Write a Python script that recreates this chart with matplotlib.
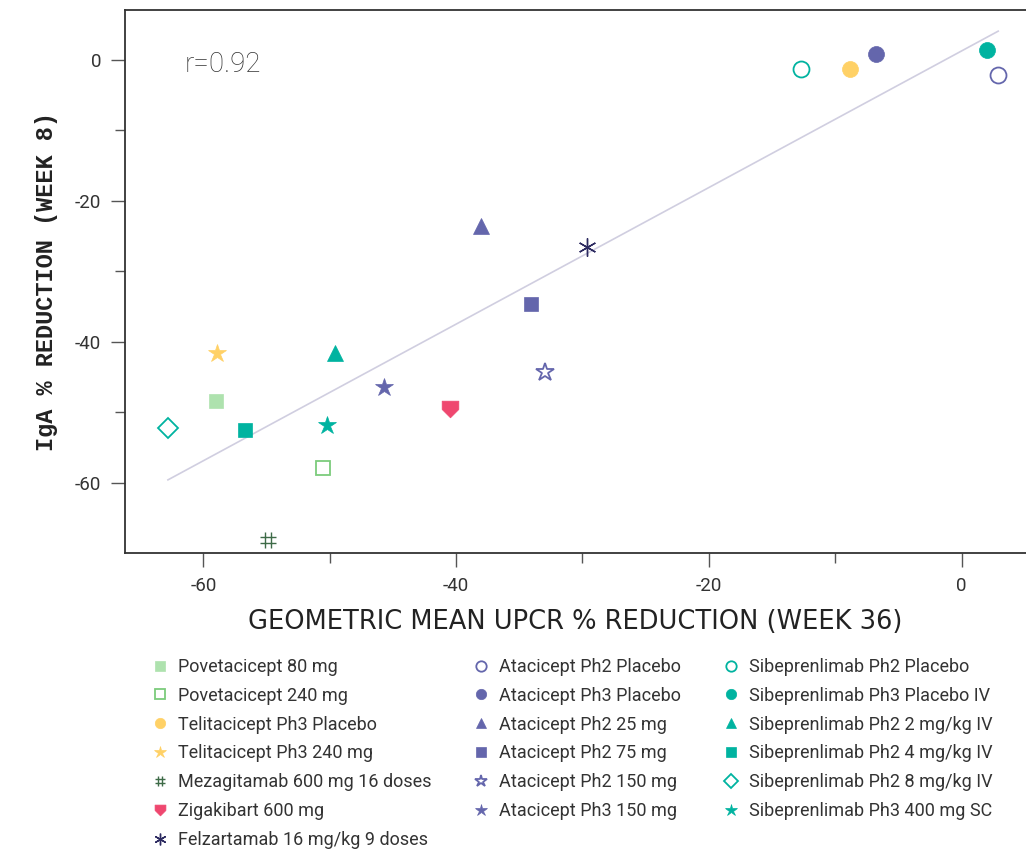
import numpy as np
import matplotlib.pyplot as plt
from matplotlib.path import Path

plt.rcParams["font.family"] = ["Roboto", "DejaVu Sans"]
plt.rcParams["axes.unicode_minus"] = False

labels = [
    "Povetacicept 80 mg", "Povetacicept 240 mg", "Telitacicept Ph3 Placebo",
    "Telitacicept Ph3 240 mg", "Mezagitamab 600 mg 16 doses", "Zigakibart 600 mg",
    "Felzartamab 16 mg/kg 9 doses",
    "Atacicept Ph2 Placebo", "Atacicept Ph3 Placebo", "Atacicept Ph2 25 mg",
    "Atacicept Ph2 75 mg", "Atacicept Ph2 150 mg", "Atacicept Ph3 150 mg",
    "Sibeprenlimab Ph2 Placebo", "Sibeprenlimab Ph3 Placebo IV",
    "Sibeprenlimab Ph2 2 mg/kg IV", "Sibeprenlimab Ph2 4 mg/kg IV",
    "Sibeprenlimab Ph2 8 mg/kg IV", "Sibeprenlimab Ph3 400 mg SC",
]
upcr = [-59.0, -50.5, -8.8, -58.9, -54.9, -40.5, -29.6,
        2.9, -6.8, -38.0, -34.1, -33.0, -45.7,
        -12.7, 2.0, -49.6, -56.7, -62.8, -50.2]
iga = [-48.4, -58.0, -1.3, -41.6, -68.1, -49.6, -26.5,
       -2.1, 0.8, -23.5, -34.7, -44.3, -46.4,
       -1.3, 1.4, -41.6, -52.5, -52.2, -51.8]

purple = "#6466ac"
teal = "#00b3a0"
yellow = "#ffd166"
green_lt = "#aee2ae"
green_open = "#7ccb7c"
green_dk = "#3e6b48"
pink = "#ef476f"
navy = "#2c2a60"

# custom glyphs: hash sign and downward shield
hash_mark = Path(
    [(-0.35, -1), (-0.35, 1), (0.35, -1), (0.35, 1),
     (-1, -0.35), (1, -0.35), (-1, 0.35), (1, 0.35)],
    [Path.MOVETO, Path.LINETO] * 4)
shield = Path([(-1, 1), (1, 1), (1, 0), (0, -1), (-1, 0), (-1, 1)],
              [Path.MOVETO] + [Path.LINETO] * 4 + [Path.CLOSEPOLY])
asterisk = (6, 2, 0)

# (marker, colour, filled, size)
styles = [
    ("s", green_lt, True, 10), ("s", green_open, False, 10),
    ("o", yellow, True, 11.5), ("*", yellow, True, 13.5),
    (hash_mark, green_dk, False, 12), (shield, pink, True, 12),
    (asterisk, navy, False, 13),
    ("o", purple, False, 11.5), ("o", purple, True, 11.5),
    ("^", purple, True, 11), ("s", purple, True, 10),
    ("*", purple, False, 13.5), ("*", purple, True, 13.5),
    ("o", teal, False, 11.5), ("o", teal, True, 11.5),
    ("^", teal, True, 11), ("s", teal, True, 10),
    ("D", teal, False, 10.5), ("*", teal, True, 13.5),
]

fig = plt.figure(figsize=(10.26, 8.5), dpi=100)
ax = fig.add_axes([0.1218, 0.3494, 0.8782, 0.6388])

# fitted trend line over the data range
k, b = np.polyfit(upcr, iga, 1)
xs = np.array([min(upcr), max(upcr)])
ax.plot(xs, k * xs + b, color="#d0cee0", lw=1.2, zorder=1)

for lab, x, y, (m, c, filled, ms) in zip(labels, upcr, iga, styles):
    if filled:
        ax.plot(x, y, ls="none", marker=m, color=c, markersize=ms,
                markeredgecolor=c, markeredgewidth=0.5, label=lab, zorder=3)
    else:
        lw = 1.0 if m is hash_mark or m == asterisk else 1.3
        ax.plot(x, y, ls="none", marker=m, color=c, markersize=ms,
                markerfacecolor="none", markeredgecolor=c,
                markeredgewidth=lw, label=lab, zorder=3)

ax.text(0.066, 0.899, "r=0.92", transform=ax.transAxes, fontsize=20,
        color="#333333", va="center", fontweight="light")

ax.set_xlim(-66.2, 5.1)
ax.set_ylim(-70, 7.1)
ax.set_xticks([-60, -40, -20, 0])
ax.set_xticks([-50, -30, -10], minor=True)
ax.set_yticks([0, -20, -40, -60])
ax.set_yticks([-10, -30, -50], minor=True)
ax.tick_params(which="major", length=10, width=1, color="#555555",
               labelsize=13.5, labelcolor="#333333", pad=7)
ax.tick_params(which="minor", length=7, width=1, color="#555555")
for s in ("left", "bottom", "top"):
    ax.spines[s].set_color("#333333")
    ax.spines[s].set_linewidth(1.3)
ax.spines["right"].set_visible(False)

ax.set_xlabel("GEOMETRIC MEAN UPCR % REDUCTION (WEEK 36)", fontsize=18.5,
              family=["DejaVu Sans"], color="#222222", labelpad=10)
ax.set_ylabel("IgA % REDUCTION (WEEK 8)", fontsize=17, fontweight="bold",
              family=["Liberation Mono", "DejaVu Sans Mono"],
              color="#222222", labelpad=12)

fig.legend(loc="upper left", bbox_to_anchor=(0.147, 0.226), ncol=3,
           frameon=False, fontsize=13, markerscale=0.65, handlelength=1.0,
           handletextpad=0.5, columnspacing=2.25, labelspacing=0.6,
           borderpad=0, borderaxespad=0, labelcolor="#333333")

fig.savefig("out.png", dpi=100)
